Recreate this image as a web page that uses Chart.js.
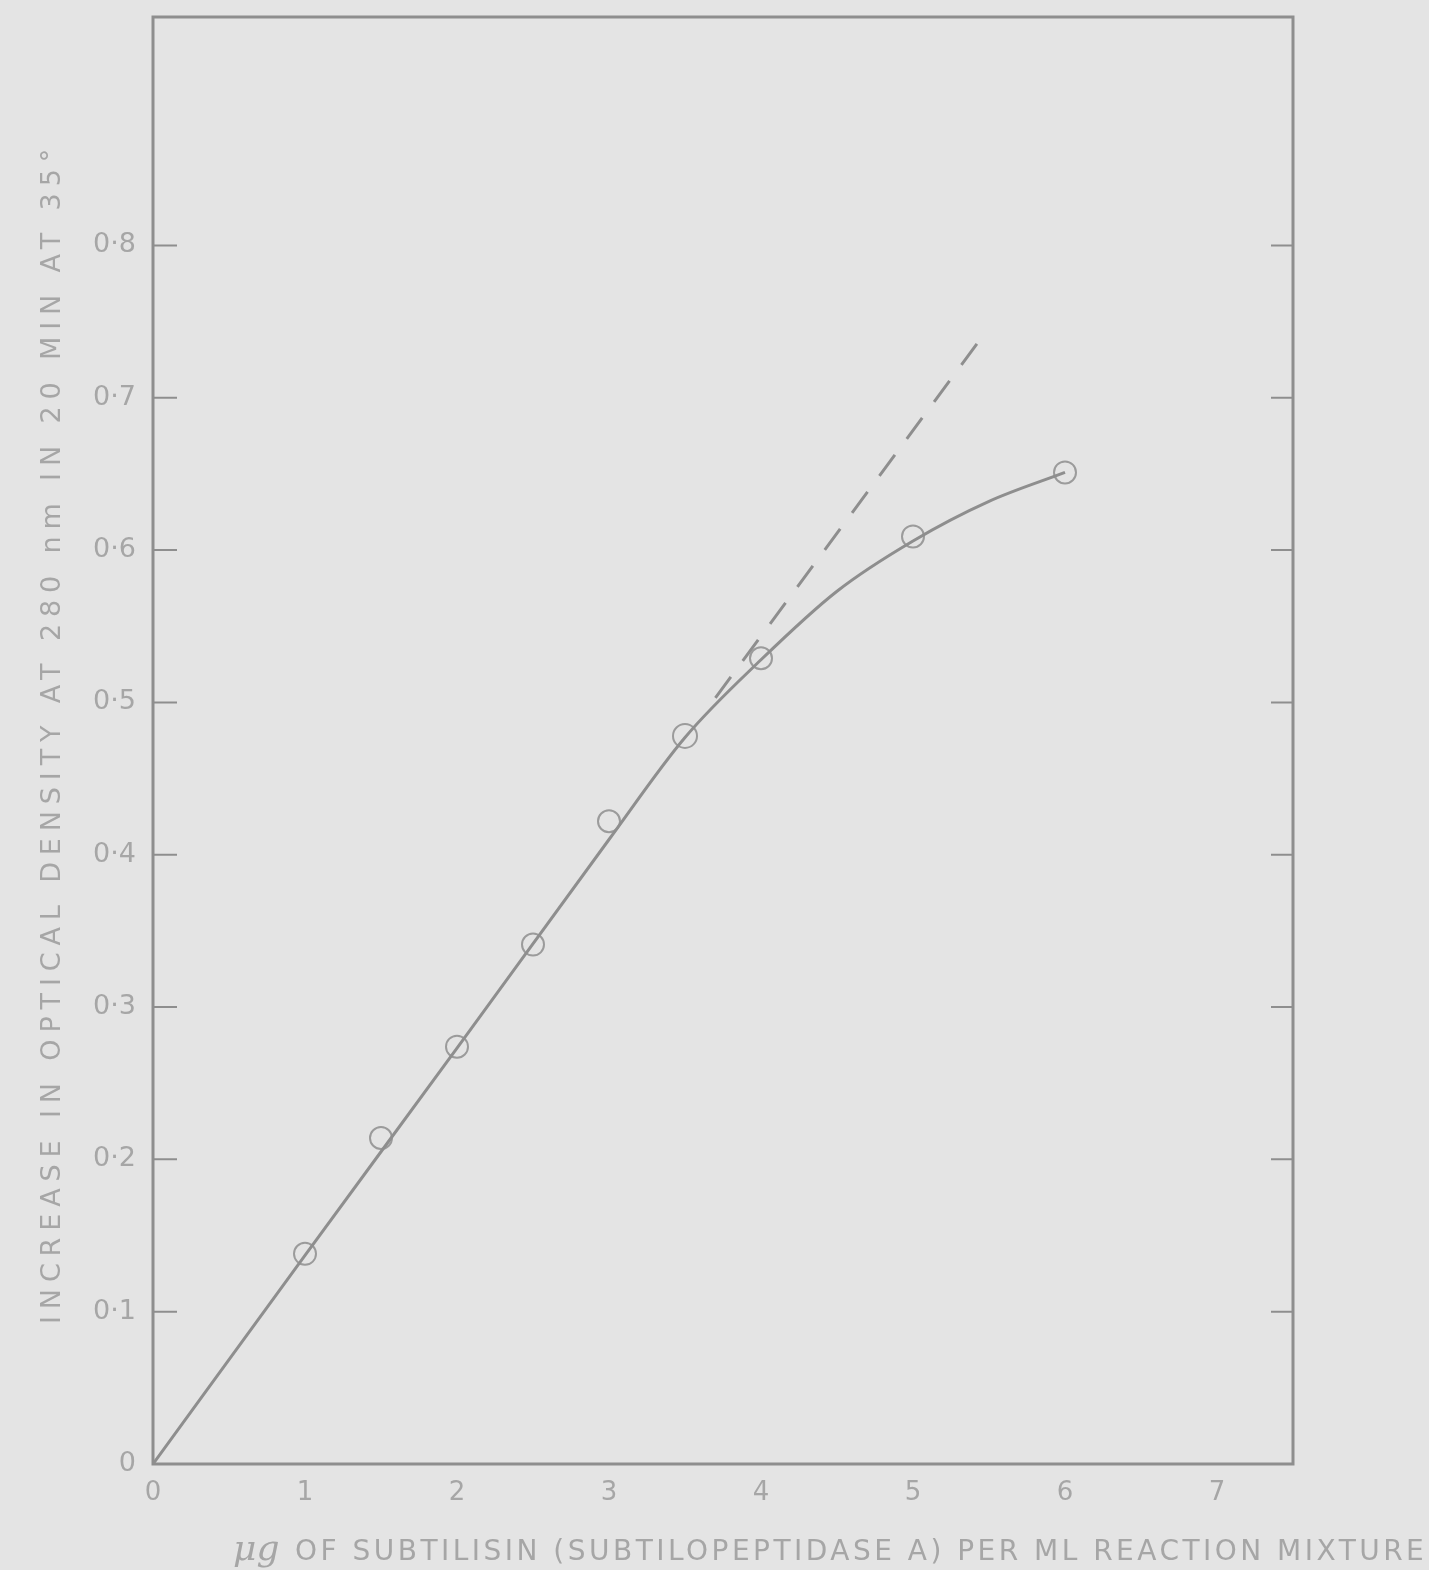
<!DOCTYPE html>
<html>
<head>
<meta charset="utf-8">
<script src="https://cdn.jsdelivr.net/npm/chart.js@4.4.0/dist/chart.umd.min.js"></script>
<style>
  html, body { margin: 0; padding: 0; background: #e4e4e4; }
  #wrap { width: 1429px; height: 1570px; position: relative; }
</style>
</head>
<body>
<div id="wrap"><canvas id="odChart" width="1429" height="1570"></canvas></div>
<script>
// ==========================
// Dữ liệu
// ==========================
// các điểm đo (vòng tròn)
const doseUg = [1, 1.5, 2, 2.5, 3, 3.5, 4, 5, 6];                  // µg subtilisin / ml
const odIncrease = [0.138, 0.214, 0.274, 0.341, 0.422, 0.478, 0.529, 0.609, 0.651];
const markerRadius = [11, 11, 11, 11, 11, 12, 11, 11, 11];

// đường cong vẽ tay, đọc theo nét trên hình
const curveX = [0, 1, 2, 3, 3.5, 4, 4.5, 5, 5.5, 6];
const curveY = [0, 0.137, 0.273, 0.41, 0.477, 0.528, 0.573, 0.606, 0.632, 0.651];

// đường gạch nối dài phần tuyến tính ban đầu
const dashX = [3.7, 5.44];
const dashY = [0.503, 0.738];

const xTicks = [0, 1, 2, 3, 4, 5, 6, 7];
const yTicks = [0, 0.1, 0.2, 0.3, 0.4, 0.5, 0.6, 0.7, 0.8];

const xTitleUnit = 'μg';
const xTitle = 'OF SUBTILISIN (SUBTILOPEPTIDASE A) PER ML REACTION MIXTURE';
const yTitle = 'INCREASE IN OPTICAL DENSITY AT 280 nm IN 20 MIN AT 35°';

const inkLine = '#8e8e8e';
const inkText = '#a6a6a6';

// vẽ chữ giãn cách sao cho vừa độ dài cho trước
function drawSpread(ctx, text, x, y, width) {
    ctx.letterSpacing = '0px';
    const w0 = ctx.measureText(text).width;
    const gap = (width - w0) / Math.max(1, text.length - 1);
    ctx.letterSpacing = gap.toFixed(2) + 'px';
    ctx.fillText(text, x, y);
    ctx.letterSpacing = '0px';
}

// ==========================
// Plugin: khung, vạch chia hướng vào trong, tiêu đề trục
// ==========================
const framePlugin = {
    id: 'frame',
    afterDraw(chart) {
        const { ctx, chartArea: a, scales } = chart;
        ctx.save();
        ctx.strokeStyle = inkLine;
        ctx.lineWidth = 3;
        ctx.strokeRect(a.left, a.top, a.right - a.left, a.bottom - a.top);

        // vạch chia trục tung ở cả hai bên
        ctx.lineWidth = 2;
        yTicks.forEach(v => {
            if (v === 0) return;
            const py = scales.y.getPixelForValue(v);
            ctx.beginPath();
            ctx.moveTo(a.left, py); ctx.lineTo(a.left + 24, py);
            ctx.moveTo(a.right - 22, py); ctx.lineTo(a.right, py);
            ctx.stroke();
        });

        // tiêu đề trục hoành
        ctx.fillStyle = inkText;
        ctx.textAlign = 'left';
        ctx.textBaseline = 'alphabetic';
        ctx.font = 'italic 36px "DejaVu Serif"';
        ctx.fillText(xTitleUnit, a.left + 80, 1560);
        ctx.font = '28px "DejaVu Sans"';
        drawSpread(ctx, xTitle, a.left + 142, 1560, 1424 - (a.left + 142));

        // tiêu đề trục tung
        ctx.translate(60, (a.top + a.bottom) / 2 - 4);
        ctx.rotate(-Math.PI / 2);
        ctx.font = '27px "DejaVu Sans"';
        const span = 1175;
        drawSpread(ctx, yTitle, -span / 2, 0, span);
        ctx.restore();
    }
};

// ==========================
// Vẽ biểu đồ
// ==========================
const ctx = document.getElementById('odChart').getContext('2d');
new Chart(ctx, {
    type: 'scatter',
    data: {
        datasets: [
            {
                label: 'đường cong',
                data: curveX.map((x, i) => ({ x: x, y: curveY[i] })),
                showLine: true,
                cubicInterpolationMode: 'monotone',
                borderColor: inkLine,
                borderWidth: 3,
                pointRadius: 0
            },
            {
                label: 'điểm đo',
                data: doseUg.map((x, i) => ({ x: x, y: odIncrease[i] })),
                showLine: false,
                pointRadius: markerRadius,
                pointBorderWidth: 2,
                pointBorderColor: '#9b9b9b',
                pointBackgroundColor: 'rgba(0,0,0,0)'
            },
            {
                label: 'độ dốc ban đầu',
                data: dashX.map((x, i) => ({ x: x, y: dashY[i] })),
                showLine: true,
                borderColor: inkLine,
                borderWidth: 3,
                borderDash: [26, 20],
                pointRadius: 0
            }
        ]
    },
    options: {
        responsive: false,
        animation: false,
        layout: { padding: { top: 17, right: 136, left: 0, bottom: 0 } },
        plugins: { legend: { display: false }, tooltip: { enabled: false } },
        scales: {
            x: {
                type: 'linear',
                min: 0,
                max: 7.5,
                afterBuildTicks: s => { s.ticks = xTicks.map(v => ({ value: v })); },
                afterFit: s => { s.height = 106; s.paddingLeft = 0; s.paddingRight = 0; },
                grid: { display: false, drawTicks: false },
                border: { display: false },
                ticks: {
                    color: inkText,
                    padding: 14,
                    font: { family: 'DejaVu Sans', size: 26 },
                    callback: v => String(v)
                }
            },
            y: {
                min: 0,
                max: 0.95,
                afterBuildTicks: s => { s.ticks = yTicks.map(v => ({ value: v })); },
                afterFit: s => { s.width = 153; s.paddingTop = 0; s.paddingBottom = 0; },
                grid: { display: false, drawTicks: false },
                border: { display: false },
                ticks: {
                    color: inkText,
                    padding: 17,
                    font: { family: 'DejaVu Sans', size: 27 },
                    callback: v => v === 0 ? '0' : '0·' + Math.round(v * 10)
                }
            }
        }
    },
    plugins: [framePlugin]
});
</script>
</body>
</html>
